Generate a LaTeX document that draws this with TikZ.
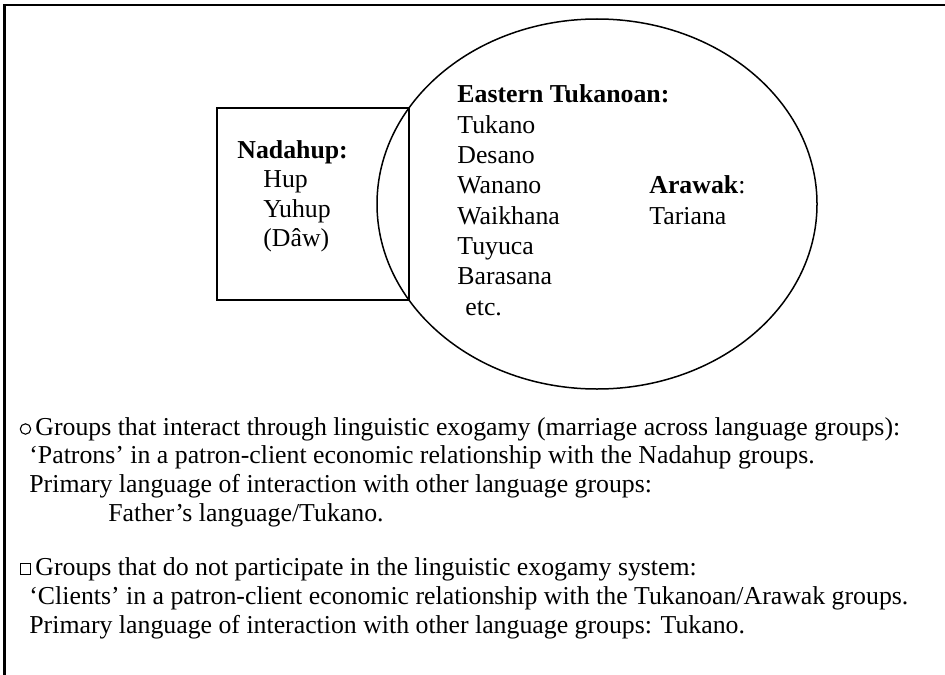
\documentclass[tikz,border=0pt]{standalone}
\usepackage{fontspec}
\setmainfont{Liberation Serif}
\usetikzlibrary{positioning}

\tikzset{
  lbl/.style={anchor=base west, inner sep=0pt, font=\fontsize{12.9}{15}\selectfont},
  hd/.style={lbl, font=\fontsize{12.9}{15}\selectfont\bfseries},
  keysym/.style={draw, inner sep=0pt, minimum size=5.2pt, line width=0.55pt},
}

\begin{document}
\begin{tikzpicture}[x=0.5pt,y=-0.5pt]
  \useasboundingbox (0,0) rectangle (945,674);
  % frame, open at the right and the bottom
  \draw[line width=1.3pt] (4.5,690) -- (4.5,5) -- (960,5);
  % Nadahup box and Tukanoan/Arawak ellipse
  \draw[line width=1pt] (217,108) rectangle (409,300);
  \draw[line width=0.75pt] (597,204) ellipse (220 and 185);
  % Nadahup groups
  \node[hd] (nadahup) at (237,158) {Nadahup:};
  \node[lbl] (hup) at (263,187.5) {Hup};
  \node[lbl] (yuhup) at (263,217) {Yuhup};
  \node[lbl] (daw) at (263,246.5) {(Dâw)};
  % Eastern Tukanoan groups
  \node[hd] (tukhead) at (457,102) {Eastern Tukanoan:};
  \node[lbl] (tukano) at (457,133) {Tukano};
  \node[lbl] (desano) at (457,163.3) {Desano};
  \node[lbl] (wanano) at (457,193.6) {Wanano};
  \node[lbl] (waikhana) at (457,224) {Waikhana};
  \node[lbl] (tuyuca) at (457,254.3) {Tuyuca};
  \node[lbl] (barasana) at (457,284.6) {Barasana};
  \node[lbl] (etc) at (465,315) {etc.};
  % Arawak
  \node[lbl] (arawak) at (649,193.6) {\textbf{Arawak}:};
  \node[lbl] (tariana) at (649,224) {Tariana};
  % key: circle
  \node[keysym,circle] (circsym) at (25.5,429) {};
  \node[lbl] (circtext) at (35,435)
        {Groups that interact through linguistic exogamy (marriage across language groups):};
  \node[lbl] (patrons) at (29,463.7)
        {‘Patrons’ in a patron-client economic relationship with the Nadahup groups.};
  \node[lbl] (circprim) at (29,492.4)
        {Primary language of interaction with other language groups:};
  \node[lbl] (father) at (108,521) {Father’s language/Tukano.};
  % key: square
  \node[keysym] (sqsym) at (25.5,569) {};
  \node[lbl] (sqtext) at (35,575)
        {Groups that do not participate in the linguistic exogamy system:};
  \node[lbl] (clients) at (29,604)
        {‘Clients’ in a patron-client economic relationship with the Tukanoan/Arawak groups.};
  \node[lbl] (sqprim) at (29,633)
        {Primary language of interaction with other language groups: Tukano.};
\end{tikzpicture}
\end{document}
